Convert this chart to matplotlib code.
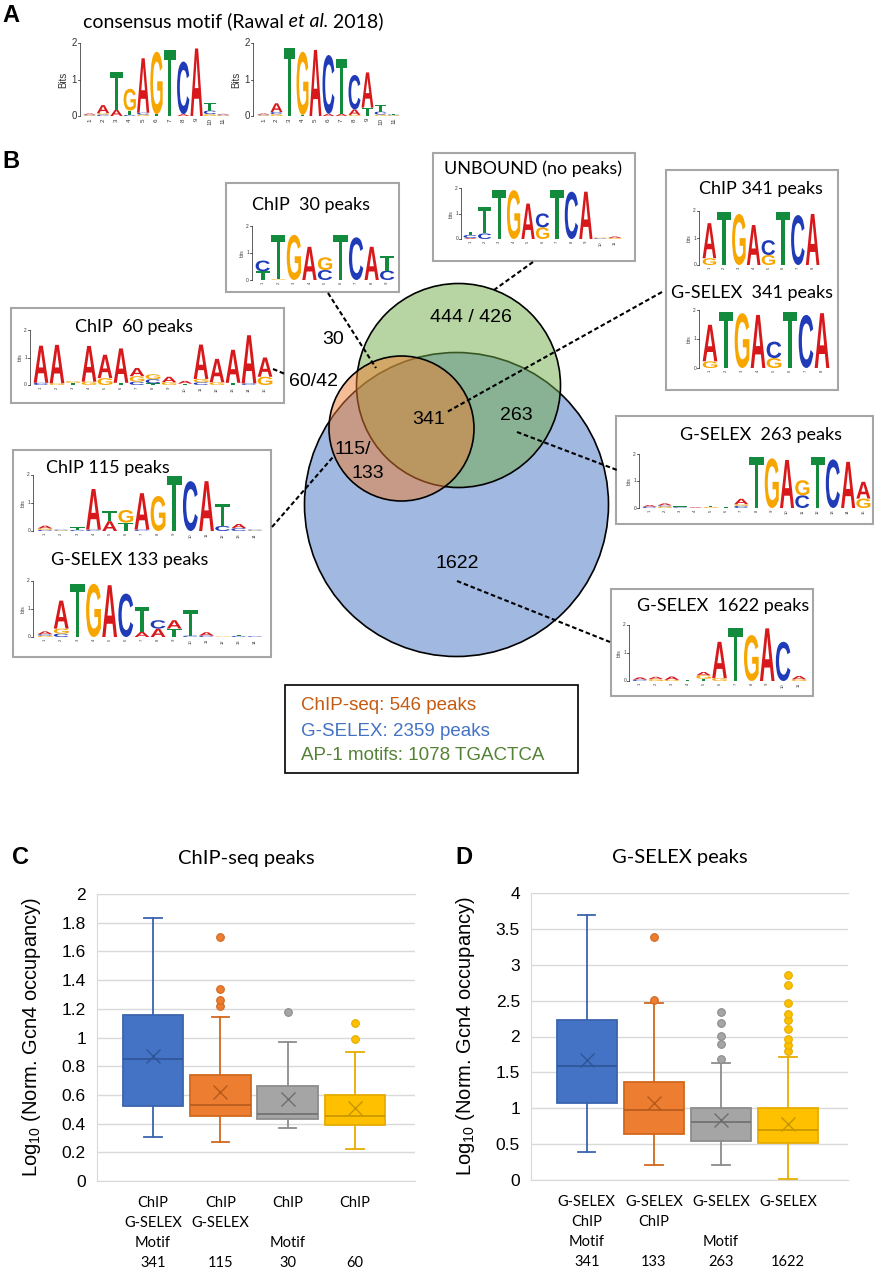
import matplotlib
matplotlib.use("Agg")
import matplotlib.pyplot as plt
from matplotlib.patches import Circle, Rectangle, PathPatch
from matplotlib.textpath import TextPath
from matplotlib.font_manager import FontProperties
from matplotlib.transforms import Affine2D
from matplotlib.ticker import FuncFormatter
from matplotlib.colors import to_rgba

# ---- panel C: ChIP-seq peaks (Log10 norm. Gcn4 occupancy) ----
c_labels = ["ChIP\nG-SELEX\nMotif\n341", "ChIP\nG-SELEX\n\n115", "ChIP\n\nMotif\n30", "ChIP\n\n\n60"]
c_whislo = [0.31, 0.27, 0.37, 0.22]
c_q1 = [0.52, 0.45, 0.43, 0.39]
c_med = [0.85, 0.53, 0.47, 0.45]
c_q3 = [1.16, 0.74, 0.66, 0.60]
c_whishi = [1.83, 1.14, 0.97, 0.90]
c_mean = [0.87, 0.62, 0.57, 0.51]
c_fliers = [[], [1.22, 1.26, 1.34, 1.70], [1.18], [0.99, 1.10]]

# ---- panel D: G-SELEX peaks ----
d_labels = ["G-SELEX\nChIP\nMotif\n341", "G-SELEX\nChIP\n\n133", "G-SELEX\n\nMotif\n263", "G-SELEX\n\n\n1622"]
d_whislo = [0.39, 0.21, 0.21, 0.01]
d_q1 = [1.08, 0.64, 0.55, 0.51]
d_med = [1.59, 0.98, 0.81, 0.70]
d_q3 = [2.23, 1.37, 1.01, 1.01]
d_whishi = [3.70, 2.46, 1.63, 1.72]
d_mean = [1.67, 1.07, 0.84, 0.78]
d_fliers = [[], [2.51, 3.38], [1.68, 1.89, 2.01, 2.19, 2.34],
            [1.80, 1.88, 1.97, 2.11, 2.23, 2.31, 2.46, 2.72, 2.86]]

# ---- panel B: venn counts and legend ----
venn_legend = ["ChIP-seq: 546 peaks", "G-SELEX: 2359 peaks", "AP-1 motifs: 1078 TGACTCA"]
venn_counts = ["444 / 426", "30", "60/42", "341", "263", "115/", "133", "1622"]
logo_titles = ["ChIP  30 peaks", "UNBOUND (no peaks)", "ChIP 341 peaks", "G-SELEX  341 peaks",
               "ChIP  60 peaks", "ChIP 115 peaks", "G-SELEX 133 peaks", "G-SELEX  263 peaks",
               "G-SELEX  1622 peaks"]

# ---- sequence logos: per position, letters bottom->top with height in bits ----
logo_a1 = [[('G', .02), ('C', .02), ('A', .03)], [('C', .04), ('G', .04), ('A', .22)],
           [('A', .17), ('T', 1.05)], [('C', .03), ('T', .12), ('G', .6)],
           [('G', .04), ('C', .05), ('A', 1.5)], [('T', .05), ('G', 1.72)], [('T', 1.83)],
           [('A', .05), ('C', 1.45)], [('A', 1.86)], [('G', .05), ('C', .1), ('T', .2)],
           [('G', .02), ('C', .02), ('A', .02)]]
logo_a2 = [[('G', .02), ('C', .02), ('A', .03)], [('G', .05), ('C', .06), ('A', .24)],
           [('T', 1.86)], [('T', .03), ('G', 1.74)], [('A', 1.82)], [('A', .06), ('C', 1.62)],
           [('A', .06), ('T', 1.5)], [('G', .03), ('A', .15), ('C', .95)], [('T', .23), ('A', .97)],
           [('G', .04), ('C', .08), ('T', .18)], [('G', .02), ('C', .02), ('T', .02)]]
logo_chip30 = [[('T', .32), ('C', .4)], [('G', .03), ('T', 1.64)], [('G', 1.67)], [('A', 1.23)],
               [('C', .37), ('G', .47)], [('T', 1.67)], [('C', 1.58)], [('A', 1.23)],
               [('C', .35), ('T', .55)]]
logo_unbound = [[('A', .04), ('C', .12), ('T', .12)], [('C', .22), ('T', 1.05)], [('T', 1.93)],
                [('G', 1.93)], [('A', 1.4)], [('G', .46), ('C', .55)], [('T', 1.93)], [('C', 1.87)],
                [('A', 1.87)], [('C', .03), ('G', .03)], [('G', .04), ('A', .06)]]
logo_chip341 = [[('G', .25), ('A', 1.3)], [('T', 1.97)], [('G', 1.89)], [('A', 1.48)],
                [('G', .37), ('C', .55)], [('T', 1.97)], [('C', 1.85)], [('A', 1.89)]]
logo_selex341 = [[('G', .23), ('A', 1.26)], [('T', 1.94)], [('G', 1.89)], [('A', 1.83)],
                 [('G', .34), ('C', .57)], [('T', 1.94)], [('C', 1.83)], [('A', 1.89)]]
logo_chip60 = [[('C', .08), ('A', 1.35)], [('G', .06), ('A', 1.4)], [('T', .08), ('G', .06)],
               [('G', .12), ('A', 1.3)], [('G', .25), ('A', .85)], [('T', .08), ('A', 1.25)],
               [('C', .12), ('G', .2), ('A', .3)], [('T', .06), ('C', .15), ('G', .18)],
               [('G', .1), ('A', .2)], [('T', .05), ('A', .1)], [('C', .1), ('G', .12), ('A', 1.25)],
               [('G', .1), ('A', .85)], [('T', .08), ('A', 1.2)], [('C', .06), ('A', 1.75)],
               [('G', .3), ('A', .7)]]
logo_chip115 = [[('C', .04), ('G', .05), ('A', .1)], [('G', .02), ('C', .03)], [('C', .04), ('T', .1)],
                [('C', .05), ('A', 1.45)], [('A', .35), ('T', .35)], [('T', .3), ('G', .45)],
                [('C', .05), ('A', 1.3)], [('G', 1.25)], [('T', 1.95)], [('C', 1.78)], [('A', 1.78)],
                [('C', .18), ('T', .8)], [('C', .1), ('A', .15)], [('G', .02), ('C', .03)]]
logo_selex133 = [[('G', .05), ('C', .05), ('A', .1)], [('C', .12), ('G', .18), ('A', 1.0)], [('T', 1.9)],
                 [('G', 1.9)], [('A', 1.85)], [('C', 1.55)], [('A', .18), ('T', .9)],
                 [('A', .3), ('C', .3)], [('T', .3), ('A', .3)], [('C', .05), ('T', .9)],
                 [('C', .05), ('A', .12)], [('G', .02)], [('C', .04), ('T', .04)], [('C', .03)]]
logo_selex263 = [[('C', .05), ('A', .06)], [('G', .06), ('C', .04), ('A', .07)], [('C', .03), ('T', .03)],
                 [('A', .03)], [('G', .04), ('T', .03)], [('T', .05)], [('C', .08), ('G', .06), ('A', .2)],
                 [('T', 1.88)], [('G', 1.84)], [('A', 1.78)], [('C', .47), ('G', .56)], [('T', 1.88)],
                 [('C', 1.8)], [('A', 1.71)], [('G', .35), ('A', .62)]]
logo_selex1622 = [[('C', .05), ('A', .08)], [('G', .07), ('A', .08)], [('G', .04), ('A', .12)],
                  [('T', .03)], [('T', .08), ('G', .12), ('A', .12)], [('G', .1), ('A', 1.3)],
                  [('T', 1.88)], [('G', 1.64)], [('A', 1.88)], [('C', 1.4)], [('G', .06), ('A', .12)]]

letter_colors = {'A': '#D7191C', 'C': '#1F3BB8', 'G': '#F7A600', 'T': '#128C3C'}
box_fill = ['#4472C4', '#ED7D31', '#A5A5A5', '#FFC000']
box_edge = ['#3B64AD', '#D0691F', '#8C8C8C', '#E6AC00']
box_dark = ['#2F5597', '#B55A1C', '#6E6E6E', '#C79500']

ARIAL = 'Liberation Sans'
CALIBRI = 'Lato'

W, H = 875, 1280
fig = plt.figure(figsize=(W / 100, H / 100), dpi=100)
ax0 = fig.add_axes([0, 0, 1, 1])
ax0.set_xlim(0, W)
ax0.set_ylim(H, 0)
ax0.axis('off')

logo_font = FontProperties(family=ARIAL, weight='bold')
glyphs = {b: TextPath((0, 0), b, size=1, prop=logo_font) for b in 'ACGT'}


def draw_letter(ax, b, x, y, w, h):
    p = glyphs[b]
    ext = p.get_extents()
    tr = Affine2D().translate(-ext.x0, -ext.y0).scale(w / ext.width, -h / ext.height).translate(x, y)
    ax.add_patch(PathPatch(tr.transform_path(p), fc=letter_colors[b], ec='none', lw=0))


def draw_logo(ax, stacks, x_axis, x0, x1, y0, ppb, fs=3.5, ylab='bits', numfs=3):
    n = len(stacks)
    cw = (x1 - x0) / n
    for i, stack in enumerate(stacks):
        y = y0
        for b, h in stack:
            hh = h * ppb
            draw_letter(ax, b, x0 + i * cw + 0.04 * cw, y, cw * 0.92, hh)
            y -= hh
        ax.text(x0 + (i + 0.5) * cw, y0 + 2, str(i + 1), rotation=90, fontsize=numfs,
                ha='center', va='top', color='#333333', family=ARIAL)
    ax.plot([x_axis, x_axis], [y0, y0 - 2 * ppb], color='#444444', lw=0.6)
    for k in range(3):
        ax.plot([x_axis - 2, x_axis], [y0 - k * ppb] * 2, color='#444444', lw=0.6)
        ax.text(x_axis - 3, y0 - k * ppb, str(k), fontsize=fs, ha='right', va='center',
                family=ARIAL, color='#333333')
    ax.text(x_axis - 3 - fs * 1.9, y0 - ppb, ylab, fontsize=fs, rotation=90, ha='center',
            va='center', family=ARIAL, color='#333333')


# ---------------- panel A ----------------
fig.text(2 / W, 1 - 22 / H, 'A', fontsize=17, weight='bold', family=ARIAL)
t1 = ax0.text(83, 27, 'consensus motif (Rawal', fontsize=14, family=CALIBRI, va='baseline')
t2 = ax0.annotate(' et al.', xy=(1, 0), xycoords=t1, va='bottom', fontsize=14, family=CALIBRI,
                  style='italic')
ax0.annotate(' 2018)', xy=(1, 0), xycoords=t2, va='bottom', fontsize=14, family=CALIBRI)
draw_logo(ax0, logo_a1, 80, 83, 230, 116, 36.3, fs=7, ylab='Bits', numfs=4.5)
draw_logo(ax0, logo_a2, 253, 257, 400, 116, 36.3, fs=7, ylab='Bits', numfs=4.5)

# ---------------- panel B ----------------
fig.text(2 / W, 1 - 168 / H, 'B', fontsize=17, weight='bold', family=ARIAL)

venn = [((456.5, 504.5), 152, box_fill[0]),   # G-SELEX
        ((458.5, 385.5), 102, '#70AD47'),     # AP-1 motifs
        ((401.5, 428.5), 72.5, box_fill[1])]  # ChIP-seq
for (cx, cy), r, col in venn:
    ax0.add_patch(Circle((cx, cy), r, facecolor=to_rgba(col, 0.5), edgecolor='black', lw=1.2))

count_pos = [(471, 317), (333, 340), (314, 382), (429, 420), (516, 415), (353, 450), (368, 473), (457, 563)]
for txt, (x, y) in zip(venn_counts, count_pos):
    ax0.text(x, y, txt, fontsize=14, family=ARIAL, ha='center', va='center')

# grey framed logo boxes
frames = [(226, 183, 399, 292), (433, 153, 635, 261), (666, 170, 838, 390), (11, 308, 284, 403),
          (13, 450, 271, 657), (616, 416, 873, 524), (611, 589, 813, 696)]
for x0, y0, x1, y1 in frames:
    ax0.add_patch(Rectangle((x0, y0), x1 - x0, y1 - y0, fc='white', ec='#A6A6A6', lw=1.5))

title_pos = [(311, 205), (533, 169), (761, 189), (752, 293), (134, 327), (108, 468), (130, 560),
             (761, 435), (723, 606)]
for txt, (x, y) in zip(logo_titles, title_pos):
    ax0.text(x, y, txt, fontsize=13, family=CALIBRI, ha='center', va='center')

draw_logo(ax0, logo_chip30, 252, 255, 395, 280, 27)
draw_logo(ax0, logo_unbound, 461, 463, 622, 239, 25.3)
draw_logo(ax0, logo_chip341, 699, 702, 820, 265, 27)
draw_logo(ax0, logo_selex341, 699, 702, 830, 368, 29)
draw_logo(ax0, logo_chip60, 30, 33, 273, 385, 27.5)
draw_logo(ax0, logo_chip115, 33, 37, 263, 531, 28)
draw_logo(ax0, logo_selex133, 33, 37, 263, 637, 28)
draw_logo(ax0, logo_selex263, 639, 642, 871, 508, 27)
draw_logo(ax0, logo_selex1622, 629, 632, 807, 681, 28)

# dashed leader lines
leaders = [((328, 293), (376, 368)), ((533, 262), (494, 290)), ((662, 292), (447, 412)),
           ((273, 369), (285, 374)), ((272, 527), (333, 457)), ((517, 432), (617, 470)),
           ((457, 581), (610, 642))]
for (xa, ya), (xb, yb) in leaders:
    ax0.plot([xa, xb], [ya, yb], color='black', lw=1.5, ls=(0, (2.2, 1.3)))

# legend box
ax0.add_patch(Rectangle((285, 685), 293, 88, fc='white', ec='black', lw=1.2))
for txt, col, y in zip(venn_legend, ['#C55A11', '#4472C4', '#548235'], [706, 731, 755]):
    ax0.text(301, y, txt, fontsize=13.5, family=ARIAL, color=col, va='center')


# ---------------- panels C & D ----------------
def boxpanel(rect, labels, whislo, q1, med, q3, whishi, mean, fliers, ymax, step, title):
    ax = fig.add_axes(rect)
    stats = [dict(whislo=whislo[i], q1=q1[i], med=med[i], q3=q3[i], whishi=whishi[i],
                  mean=mean[i], fliers=fliers[i]) for i in range(len(labels))]
    pos = list(range(1, len(labels) + 1))
    bp = ax.bxp(stats, positions=pos, widths=0.9, capwidths=0.26, showmeans=True,
                patch_artist=True, showfliers=True)
    for i in range(len(labels)):
        bp['boxes'][i].set(facecolor=box_fill[i], edgecolor=box_edge[i], lw=1.3)
        for art in bp['whiskers'][2 * i:2 * i + 2] + bp['caps'][2 * i:2 * i + 2]:
            art.set(color=box_edge[i], lw=1.3)
        bp['medians'][i].set(color=box_dark[i], lw=1.2)
        bp['means'][i].set(marker='x', markeredgecolor=box_dark[i], markerfacecolor='none',
                           markersize=10, markeredgewidth=1.0)
        bp['fliers'][i].set(marker='o', markerfacecolor=box_fill[i], markeredgecolor=box_edge[i],
                            markersize=5.5, markeredgewidth=0.8)
    ax.set_xlim(0.17, 4.89)
    ax.set_ylim(0, ymax)
    ticks = [k * step for k in range(int(round(ymax / step)) + 1)]
    ax.set_yticks(ticks)
    ax.yaxis.set_major_formatter(FuncFormatter(lambda v, p: f'{v:g}'))
    ax.set_xticks(pos)
    ax.set_xticklabels(labels, family=CALIBRI, fontsize=10.5, linespacing=1.55)
    ax.tick_params(axis='x', length=0, pad=11)
    ax.tick_params(axis='y', length=0, pad=8, labelsize=12.5)
    for lab in ax.get_yticklabels():
        lab.set_family(ARIAL)
    ax.set_axisbelow(True)
    ax.yaxis.grid(True, color='#D9D9D9', lw=1)
    for s in ['left', 'top', 'bottom']:
        ax.spines[s].set_color('#D9D9D9')
    ax.spines['right'].set_visible(False)
    ax.set_ylabel('Log$_{\\mathregular{10}}$ (Norm. Gcn4 occupancy)', fontsize=14.5, family=ARIAL)
    ax.yaxis.set_label_coords(-0.17, 0.5)
    ax.text(0.47, 1.122, title, transform=ax.transAxes, fontsize=14.5, family=CALIBRI,
            ha='center', va='center')
    return ax


axc = boxpanel([97 / W, 1 - 1181 / H, 318 / W, 287 / H], c_labels, c_whislo, c_q1, c_med, c_q3,
               c_whishi, c_mean, c_fliers, 2.0, 0.2, 'ChIP-seq peaks')
axd = boxpanel([531 / W, 1 - 1180 / H, 317 / W, 287 / H], d_labels, d_whislo, d_q1, d_med, d_q3,
               d_whishi, d_mean, d_fliers, 4.0, 0.5, 'G-SELEX peaks')
fig.text(12 / W, 1 - 864 / H, 'C', fontsize=17, weight='bold', family=ARIAL)
fig.text(455 / W, 1 - 864 / H, 'D', fontsize=17, weight='bold', family=ARIAL)

fig.savefig('out.png', dpi=100)
